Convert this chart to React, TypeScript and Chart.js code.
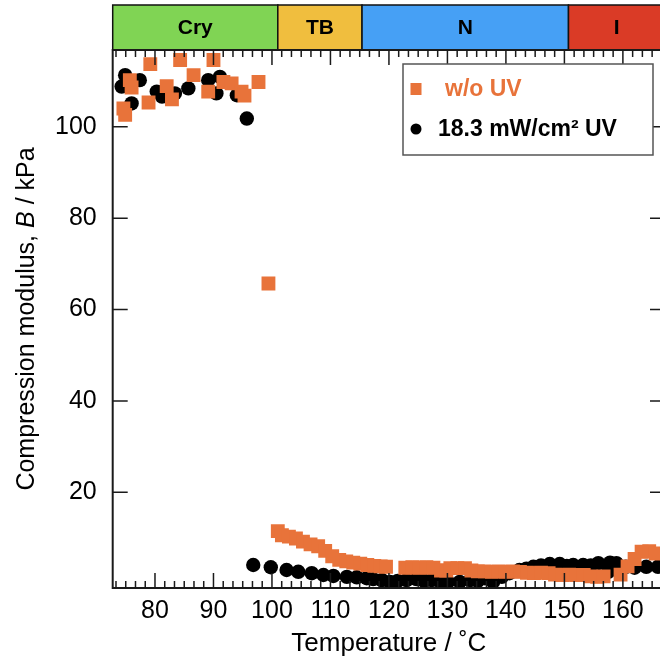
import React, { useEffect, useRef } from "react";
import { Chart, registerables } from "chart.js";

Chart.register(...registerables);

// ---- data ----
const seriesLabels = ["w/o UV", "18.3 mW/cm² UV"];
const xTitle = "Temperature / ˚C";
// y title pieces: [text, italic]
const yTitleParts: [string, boolean][] = [
  ["Compression modulus, ", false],
  ["B", true],
  [" / kPa", false],
];

const tempNoUV = [
  74.6, 74.9, 75.7, 76.0, 78.9, 79.2, 82.0, 82.9, 84.3, 86.6, 89.1, 90.0, 91.7, 93.1, 94.8, 95.3, 97.7,
  99.4,
  101.0, 101.7, 102.9, 104.1, 105.3, 106.6, 107.9, 109.1, 110.3, 111.5, 112.7, 113.9, 115.1, 116.3,
  117.5, 118.6, 119.5, 122.8, 124.0, 125.2, 126.4, 127.6, 128.9, 129.8, 130.5, 131.7, 133.0, 134.1,
  135.2, 136.4, 137.6, 138.8, 140.0, 141.2, 142.4, 143.6, 144.8, 146.0, 147.3, 148.4, 149.6, 150.8,
  152.0, 153.3, 154.5, 155.6, 156.7, 159.6, 160.8, 162.0, 163.2, 164.5, 165.6,
];
const modNoUV = [
  104.0, 102.6, 110.2, 108.6, 105.3, 113.7, 108.9, 106.0, 114.6, 111.3, 107.7, 114.6, 109.8, 109.5, 107.7, 106.8, 109.8,
  65.7,
  11.5, 10.6, 10.3, 9.9, 9.2, 8.6, 8.2, 7.2, 6.0, 5.2, 4.9, 4.6, 4.4, 4.1,
  3.9, 3.8, 3.7, 3.5, 3.6, 3.5, 3.6, 3.5, 2.9, 2.9, 3.4, 3.4, 3.4, 2.9,
  2.7, 2.7, 2.6, 2.7, 2.6, 2.7, 2.6, 2.4, 2.3, 2.4, 2.3, 2.0, 1.9, 2.0,
  1.9, 1.9, 1.6, 1.5, 1.6, 2.0, 3.8, 5.4, 7.0, 7.1, 6.6,
];

const tempUV = [
  74.3, 74.9, 76.0, 77.4, 80.3, 81.2, 83.4, 85.7, 89.1, 90.5, 91.1, 94.0, 95.7,
  96.8, 99.8, 102.5, 104.5, 106.8, 108.8, 110.5, 112.8, 114.5, 116.2, 117.3, 118.8, 120.2, 121.5,
  123.0, 124.7, 126.0, 127.3, 128.7, 130.1, 132.1, 133.9, 135.2, 136.4, 137.8, 139.3, 140.6, 142.3,
  143.5, 144.7, 146.0, 147.5, 149.2, 150.4, 151.5, 153.2, 154.5, 155.8, 157.5, 157.8, 158.9, 160.5,
  162.0, 164.0, 166.0,
];
const modUV = [
  108.8, 111.3, 105.1, 110.2, 107.7, 106.6, 107.3, 108.4, 110.2, 107.3, 110.9, 106.9, 101.8,
  4.1, 3.6, 3.0, 2.6, 2.3, 1.9, 1.7, 1.5, 1.4, 1.2, 1.0, 0.8, 0.4, 0.6,
  0.8, 1.0, 0.6, 0.8, 0.5, 0.4, 0.4, 0.8, 0.6, 1.2, 0.4, 1.5, 2.3, 3.0,
  3.3, 3.7, 4.0, 4.3, 4.3, 3.9, 4.1, 4.1, 4.0, 4.5, 2.6, 4.6, 4.5, 3.7,
  3.5, 3.7, 3.7,
];

const xTicks = [80, 90, 100, 110, 120, 130, 140, 150, 160];
const yTicks = [20, 40, 60, 80, 100];

const phaseNames = ["Cry", "TB", "N", "I"];
const phaseEdges = [101.0, 115.4, 150.7];
const phaseColors = ["#80D454", "#F0BE3E", "#46A0F5", "#DA3B26"];

const ORANGE = "#E8733A";
const FONT = "'Liberation Sans', Arial, Helvetica, sans-serif";

const decorPlugin = {
  id: "decor",
  afterDraw(chart: any) {
    const { ctx, chartArea } = chart;
    const { left, right, top, bottom } = chartArea;
    const xs = chart.scales.x;
    const ys = chart.scales.y;
    ctx.save();

    // phase band
    const bandTop = 5;
    for (let i = 0; i < phaseNames.length; i++) {
      const x0 = i === 0 ? left : xs.getPixelForValue(phaseEdges[i - 1]);
      const x1 = i === phaseNames.length - 1 ? right : xs.getPixelForValue(phaseEdges[i]);
      ctx.fillStyle = phaseColors[i];
      ctx.fillRect(x0, bandTop, x1 - x0, top - bandTop);
      ctx.strokeStyle = "#111";
      ctx.lineWidth = 1.5;
      ctx.strokeRect(x0, bandTop, x1 - x0, top - bandTop);
      ctx.fillStyle = "#000";
      ctx.font = `bold 21px ${FONT}`;
      ctx.textAlign = "center";
      ctx.textBaseline = "middle";
      ctx.fillText(phaseNames[i], (x0 + x1) / 2, (bandTop + top) / 2 + 1);
    }

    // frame
    ctx.strokeStyle = "#1a1a1a";
    ctx.lineWidth = 2;
    ctx.strokeRect(left, top, right - left, bottom - top);

    // x ticks (inward, top & bottom)
    ctx.lineWidth = 1.5;
    ctx.beginPath();
    const minorStep = 10 / 6;
    for (let k = -12; k <= 60; k++) {
      const v = 80 + k * minorStep;
      if (v <= xs.min || v >= xs.max) continue;
      const isMajor = Math.abs(Math.round(v) - v) < 1e-6 && Math.round(v) % 10 === 0;
      const len = isMajor ? 15 : 7;
      const px = xs.getPixelForValue(v);
      ctx.moveTo(px, bottom);
      ctx.lineTo(px, bottom - len);
      ctx.moveTo(px, top);
      ctx.lineTo(px, top + len);
    }
    // y ticks (inward, left & right)
    for (const v of yTicks) {
      const py = ys.getPixelForValue(v);
      ctx.moveTo(left, py);
      ctx.lineTo(left + 15, py);
      ctx.moveTo(right, py);
      ctx.lineTo(right - 15, py);
    }
    ctx.stroke();

    // y axis title with italic B
    ctx.save();
    ctx.translate(27, (top + bottom) / 2);
    ctx.rotate(-Math.PI / 2);
    ctx.fillStyle = "#000";
    ctx.textBaseline = "middle";
    ctx.textAlign = "left";
    const fontOf = (it: boolean) => `${it ? "italic " : ""}25px ${FONT}`;
    let total = 0;
    for (const [t, it] of yTitleParts) {
      ctx.font = fontOf(it);
      total += ctx.measureText(t).width;
    }
    let cx = -total / 2;
    for (const [t, it] of yTitleParts) {
      ctx.font = fontOf(it);
      ctx.fillText(t, cx, 0);
      cx += ctx.measureText(t).width;
    }
    ctx.restore();

    // legend box
    const lx = 403, ly = 64, lw = 250, lh = 91;
    ctx.fillStyle = "#fff";
    ctx.fillRect(lx, ly, lw, lh);
    ctx.strokeStyle = "#555";
    ctx.lineWidth = 1.5;
    ctx.strokeRect(lx, ly, lw, lh);

    const ds = chart.data.datasets;
    ctx.font = `bold 23px ${FONT}`;
    ctx.textAlign = "left";
    ctx.textBaseline = "middle";
    // row 1: square
    ctx.fillStyle = ds[0].backgroundColor;
    ctx.fillRect(410.5, 83, 11, 12);
    ctx.fillText(ds[0].label, 445, 90);
    // row 2: circle
    ctx.fillStyle = ds[1].backgroundColor;
    ctx.beginPath();
    ctx.arc(416, 129, 5.5, 0, Math.PI * 2);
    ctx.fill();
    ctx.fillStyle = "#000";
    ctx.fillText(ds[1].label, 438, 130);

    ctx.restore();
  },
};

export default function App() {
  const ref = useRef<HTMLCanvasElement | null>(null);

  useEffect(() => {
    if (!ref.current) return;
    const chart = new Chart(ref.current, {
      type: "scatter",
      data: {
        datasets: [
          {
            label: seriesLabels[0],
            data: tempNoUV.map((t, i) => ({ x: t, y: modNoUV[i] })),
            pointStyle: "rect",
            pointRadius: 9.8,
            pointHoverRadius: 9.8,
            backgroundColor: ORANGE,
            borderColor: ORANGE,
            borderWidth: 0,
          },
          {
            label: seriesLabels[1],
            data: tempUV.map((t, i) => ({ x: t, y: modUV[i] })),
            pointStyle: "circle",
            pointRadius: 7.2,
            pointHoverRadius: 7.2,
            backgroundColor: "#000",
            borderColor: "#000",
            borderWidth: 0,
          },
        ],
      },
      options: {
        animation: false,
        responsive: false,
        maintainAspectRatio: false,
        layout: { padding: { top: 50, right: 15, left: 0, bottom: 0 } },
        plugins: {
          legend: { display: false },
          tooltip: { enabled: false },
        },
        scales: {
          x: {
            type: "linear",
            min: 72.77,
            max: 167.2,
            grid: { display: false, drawTicks: false },
            border: { display: false },
            afterBuildTicks: (s: any) => {
              s.ticks = xTicks.map((v) => ({ value: v }));
            },
            afterFit: (s: any) => {
              s.height = 80;
            },
            ticks: {
              autoSkip: false,
              maxRotation: 0,
              padding: 8,
              color: "#000",
              font: { family: FONT, size: 25 },
            },
            title: {
              display: true,
              text: xTitle,
              color: "#000",
              font: { family: FONT, size: 26 },
              padding: { top: 0, bottom: 9 },
            },
          },
          y: {
            type: "linear",
            min: -0.94,
            max: 116.8,
            grid: { display: false, drawTicks: false },
            border: { display: false },
            afterBuildTicks: (s: any) => {
              s.ticks = yTicks.map((v) => ({ value: v }));
            },
            afterFit: (s: any) => {
              s.width = 112.7;
            },
            ticks: {
              padding: 16,
              color: "#000",
              font: { family: FONT, size: 25 },
            },
            title: { display: false },
          },
        },
      },
      plugins: [decorPlugin],
    });
    return () => chart.destroy();
  }, []);

  return (
    <div
      style={{
        position: "absolute",
        left: 0,
        top: 0,
        width: 660,
        height: 668,
        overflow: "hidden",
        background: "#fff",
      }}
    >
      <canvas ref={ref} width={680} height={668} style={{ display: "block", width: 680, height: 668 }} />
    </div>
  );
}
